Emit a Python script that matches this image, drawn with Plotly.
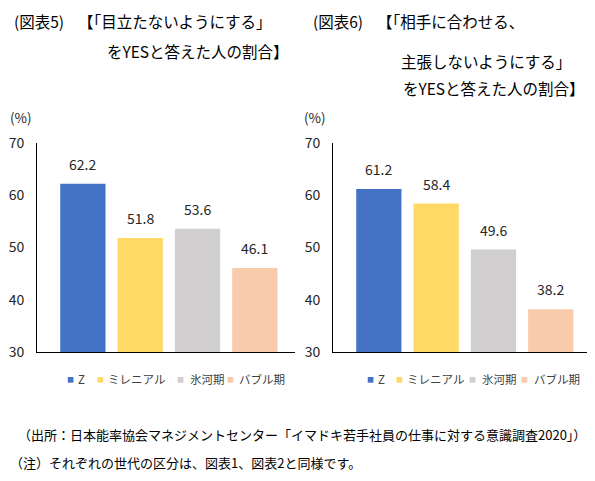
import plotly.graph_objects as go

categories = ["Z", "ミレニアル", "氷河期", "バブル期"]
values_fig5 = [62.2, 51.8, 53.6, 46.1]
values_fig6 = [61.2, 58.4, 49.6, 38.2]
colors = ["#4472C4", "#FFD966", "#D0CECE", "#F8CBAD"]
y_ticks = [30, 40, 50, 60, 70]

FONT = "Noto Sans CJK JP"
W, H = 595, 481
X0, Y0, PH = 8, 20, 461  # observed page offset / usable height


def fx(x):
    return max(0.0, (x - X0) / W)


def fy(y):
    return 1 - (y - Y0) / PH


fig = go.Figure()

for i, (cat, col) in enumerate(zip(categories, colors)):
    fig.add_trace(go.Bar(x=[cat], y=[values_fig5[i]], marker=dict(color=col, line=dict(width=0)),
                         width=0.79, xaxis="x", yaxis="y", showlegend=False, name=cat))
    fig.add_trace(go.Bar(x=[cat], y=[values_fig6[i]], marker=dict(color=col, line=dict(width=0)),
                         width=0.79, xaxis="x2", yaxis="y2", showlegend=False, name=cat))

annotations = []
for i, cat in enumerate(categories):
    annotations.append(dict(x=cat, y=values_fig5[i], xref="x", yref="y", text=f"{values_fig5[i]:.1f}",
                            showarrow=False, yanchor="bottom", yshift=8,
                            font=dict(family=FONT, size=14, color="#262626")))
    annotations.append(dict(x=cat, y=values_fig6[i], xref="x2", yref="y2", text=f"{values_fig6[i]:.1f}",
                            showarrow=False, yanchor="bottom", yshift=8,
                            font=dict(family=FONT, size=14, color="#262626")))


def txt(x, y, s, size=14, anchor="left", color="#000000"):
    annotations.append(dict(x=fx(x), y=fy(y), xref="paper", yref="paper", text=s, showarrow=False,
                            xanchor=anchor, yanchor="middle",
                            font=dict(family=FONT, size=size, color=color)))


# titles
TS = 15.5
txt(12, 22, "(図表5)", size=TS)
txt(76, 22, "【「目立たないようにする」", size=TS)
txt(105, 52, "をYESと答えた人の割合】", size=TS)
txt(311, 22, "(図表6)", size=TS)
txt(375, 22, "【「相手に合わせる、", size=TS)
txt(399, 62, "主張しないようにする」", size=TS)
txt(401, 89, "をYESと答えた人の割合】", size=TS)

# unit labels
txt(8, 118, "(%)", size=13.5, color="#262626")
txt(302, 118, "(%)", size=13.5, color="#262626")

# legends (colour key + label)
legend_sq_left = [70.5, 100.5, 180.5, 230.5]
legend_tx_left = [76, 106, 188, 237]
legend_sq_right = [370.5, 399.5, 472.5, 524.5]
legend_tx_right = [376, 405, 480, 532]
for sqs, txs in ((legend_sq_left, legend_tx_left), (legend_sq_right, legend_tx_right)):
    for sx, tx, cat, col in zip(sqs, txs, categories, colors):
        txt(sx, 380, "■", size=7, anchor="center", color=col)
        txt(tx, 380, cat, size=11.5, color="#404040")

# footnotes
txt(16, 435, "（出所：日本能率協会マネジメントセンター「イマドキ若手社員の仕事に対する意識調査2020」）", size=13)
txt(8, 463, "（注）それぞれの世代の区分は、図表1、図表2と同様です。", size=13)

axis_common = dict(showgrid=False, zeroline=False, showline=True, linecolor="#000000", linewidth=1)
yaxis_common = dict(axis_common, range=[30, 70], tickvals=y_ticks, ticks="", ticklabelstandoff=9,
                    tickfont=dict(family=FONT, size=14, color="#262626"))
xaxis_common = dict(axis_common, type="category", showticklabels=False, ticks="")

fig.update_layout(
    width=W, height=H,
    margin=dict(l=0, r=0, t=0, b=0),
    paper_bgcolor="white", plot_bgcolor="white",
    barmode="overlay",
    xaxis=dict(xaxis_common, domain=[fx(37), fx(295)], range=[-0.8, 3.7], anchor="y"),
    yaxis=dict(yaxis_common, domain=[fy(353), fy(144)], anchor="x"),
    xaxis2=dict(xaxis_common, domain=[fx(333), fx(592)], range=[-0.8, 3.72], anchor="y2"),
    yaxis2=dict(yaxis_common, domain=[fy(353), fy(144)], anchor="x2"),
    annotations=annotations,
    font=dict(family=FONT),
)

fig.write_html("out.html")
